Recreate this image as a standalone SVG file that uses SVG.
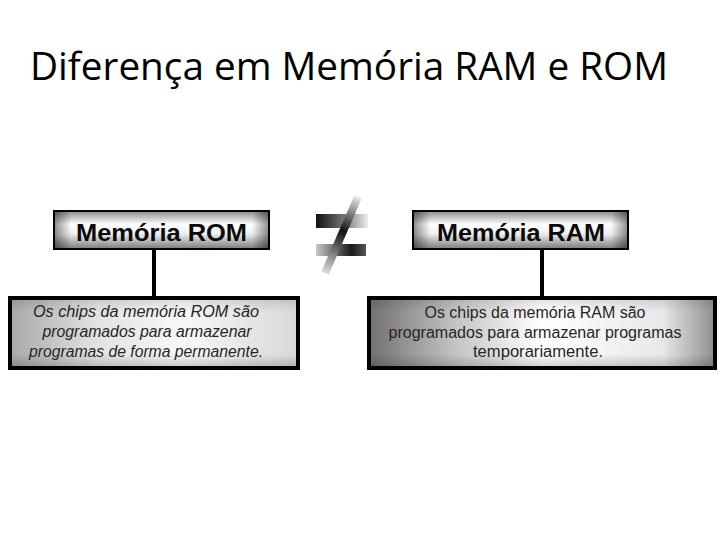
<svg xmlns="http://www.w3.org/2000/svg" width="720" height="540" viewBox="0 0 720 540">
  <defs>
    <style>
      .title { font-family: "Open Sans", "Noto Sans", sans-serif; font-size: 38px; fill: #000; }
      .head { font-family: "Liberation Sans", Arial, sans-serif; font-weight: bold; font-size: 24px; fill: #0a0a0a; text-anchor: middle; }
      .body { font-family: "Liberation Sans", Arial, sans-serif; font-size: 16px; fill: #262626; text-anchor: middle; }
      .it { font-style: italic; }
      .top { stroke: #000; stroke-width: 2; }
      .bot { stroke: #000; stroke-width: 4; }
      .conn { stroke: #000; stroke-width: 4; fill: none; }
    </style>
    <linearGradient id="gTopV" x1="0" y1="0" x2="0" y2="1">
      <stop offset="0" stop-color="#8a8a8a"/>
      <stop offset="0.35" stop-color="#ffffff"/>
      <stop offset="0.6" stop-color="#eeeeee"/>
      <stop offset="1" stop-color="#7a7a7a"/>
    </linearGradient>
    <linearGradient id="gEdgeH" x1="0" y1="0" x2="1" y2="0">
      <stop offset="0" stop-color="#000" stop-opacity="0.45"/>
      <stop offset="0.08" stop-color="#000" stop-opacity="0"/>
      <stop offset="0.92" stop-color="#000" stop-opacity="0"/>
      <stop offset="1" stop-color="#000" stop-opacity="0.45"/>
    </linearGradient>
    <linearGradient id="gEdgeV" x1="0" y1="0" x2="0" y2="1">
      <stop offset="0" stop-color="#000" stop-opacity="0.12"/>
      <stop offset="0.2" stop-color="#000" stop-opacity="0"/>
      <stop offset="0.8" stop-color="#000" stop-opacity="0"/>
      <stop offset="1" stop-color="#000" stop-opacity="0.2"/>
    </linearGradient>
    <linearGradient id="gBotL" x1="0" y1="0" x2="1" y2="0">
      <stop offset="0" stop-color="#a8a8a8"/>
      <stop offset="0.3" stop-color="#e2e2e2"/>
      <stop offset="0.6" stop-color="#f8f8f8"/>
      <stop offset="1" stop-color="#d8d8d8"/>
    </linearGradient>
    <linearGradient id="gBotR" x1="0" y1="0" x2="1" y2="0">
      <stop offset="0" stop-color="#707070"/>
      <stop offset="0.25" stop-color="#c4c4c4"/>
      <stop offset="0.5" stop-color="#ffffff"/>
      <stop offset="0.85" stop-color="#e8e8e8"/>
      <stop offset="1" stop-color="#8e8e8e"/>
    </linearGradient>
    <linearGradient id="gBar1" x1="0" y1="0" x2="1" y2="0">
      <stop offset="0" stop-color="#111"/>
      <stop offset="0.55" stop-color="#777"/>
      <stop offset="1" stop-color="#eee"/>
    </linearGradient>
    <linearGradient id="gBar2" x1="0" y1="0" x2="1" y2="0">
      <stop offset="0" stop-color="#c8c8c8"/>
      <stop offset="0.7" stop-color="#1a1a1a"/>
      <stop offset="1" stop-color="#555"/>
    </linearGradient>
    <linearGradient id="gSlash" x1="358" y1="197" x2="325" y2="273" gradientUnits="userSpaceOnUse">
      <stop offset="0" stop-color="#e8e8e8"/>
      <stop offset="0.45" stop-color="#111"/>
      <stop offset="1" stop-color="#dddddd"/>
    </linearGradient>
  </defs>

  <rect width="720" height="540" fill="#fff"/>

  <g id="title">
    <text class="title" x="30" y="80" textLength="638" lengthAdjust="spacingAndGlyphs">Diferença em Memória RAM e ROM</text>
  </g>

  <g id="connectors">
    <line class="conn" x1="154" y1="249" x2="154" y2="297"/>
    <line class="conn" x1="542" y1="249" x2="542" y2="297"/>
  </g>

  <g id="rom-head">
    <rect x="54" y="211" width="215" height="38" fill="url(#gTopV)"/>
    <rect x="54" y="211" width="215" height="38" fill="url(#gEdgeH)"/>
    <rect class="top" x="54" y="211" width="215" height="38" fill="none"/>
    <text class="head" x="161.5" y="241" textLength="171" lengthAdjust="spacingAndGlyphs">Memória ROM</text>
  </g>

  <g id="ram-head">
    <rect x="413" y="211" width="215" height="38" fill="url(#gTopV)"/>
    <rect x="413" y="211" width="215" height="38" fill="url(#gEdgeH)"/>
    <rect class="top" x="413" y="211" width="215" height="38" fill="none"/>
    <text class="head" x="521" y="241" textLength="168" lengthAdjust="spacingAndGlyphs">Memória RAM</text>
  </g>

  <g id="not-equal">
    <rect x="316" y="214" width="52" height="14" fill="url(#gBar1)"/>
    <rect x="316" y="244" width="50" height="12" fill="url(#gBar2)"/>
    <line x1="358" y1="197" x2="325" y2="273" stroke="url(#gSlash)" stroke-width="8"/>
  </g>

  <g id="rom-desc">
    <rect x="10" y="298" width="288" height="70" fill="url(#gBotL)"/>
    <rect x="10" y="298" width="288" height="70" fill="url(#gEdgeV)"/>
    <rect class="bot" x="10" y="298" width="288" height="70" fill="none"/>
    <text class="body it" x="146" y="317" textLength="226" lengthAdjust="spacingAndGlyphs">Os chips da memória ROM são</text>
    <text class="body it" x="147" y="337" textLength="209" lengthAdjust="spacingAndGlyphs">programados para armazenar</text>
    <text class="body it" x="146" y="357" textLength="234" lengthAdjust="spacingAndGlyphs">programas de forma permanente.</text>
  </g>

  <g id="ram-desc">
    <rect x="369" y="298" width="346" height="70" fill="url(#gBotR)"/>
    <rect x="369" y="298" width="346" height="70" fill="url(#gEdgeV)"/>
    <rect class="bot" x="369" y="298" width="346" height="70" fill="none"/>
    <text class="body" x="535" y="318" textLength="221" lengthAdjust="spacingAndGlyphs">Os chips da memória RAM são</text>
    <text class="body" x="535" y="338" textLength="293" lengthAdjust="spacingAndGlyphs">programados para armazenar programas</text>
    <text class="body" x="538" y="357" textLength="130" lengthAdjust="spacingAndGlyphs">temporariamente.</text>
  </g>
</svg>
